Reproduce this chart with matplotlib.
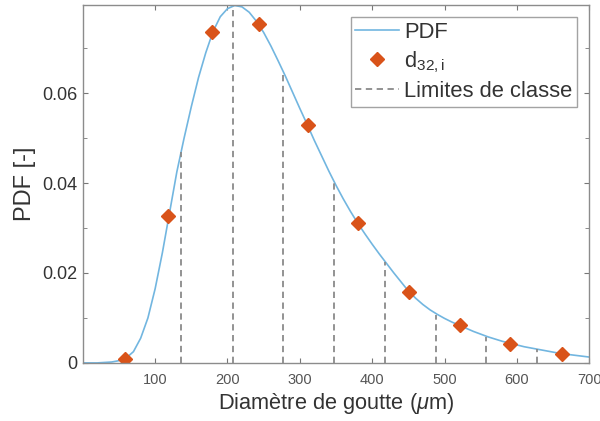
import numpy as np
import matplotlib
matplotlib.use('Agg')
import matplotlib.pyplot as plt
from matplotlib.ticker import MultipleLocator

plt.rcParams['font.family'] = ['Liberation Sans', 'DejaVu Sans']
plt.rcParams['mathtext.fontset'] = 'custom'
plt.rcParams['mathtext.rm'] = 'Liberation Sans'
plt.rcParams['mathtext.it'] = 'Liberation Sans:italic'

# PDF curve (diameter in um, pdf)
d_curve = [0, 10, 20, 30, 40, 50, 60, 70, 80, 90, 100, 110, 120, 130, 140, 150,
           160, 170, 180, 190, 200, 210, 220, 230, 240, 250, 260, 270, 280, 290,
           300, 310, 320, 330, 340, 350, 360, 370, 380, 390, 400, 410, 420, 430,
           440, 450, 460, 470, 480, 490, 500, 510, 520, 530, 540, 550, 560, 570,
           580, 590, 600, 610, 620, 630, 640, 650, 660, 670, 680, 690, 700]
pdf_curve = [0, 0, 0, 0.0001, 0.0002, 0.0005, 0.0011, 0.0025, 0.0055, 0.0100,
             0.0165, 0.0245, 0.0335, 0.0425, 0.0500, 0.0570, 0.0635, 0.0690,
             0.0737, 0.0770, 0.0788, 0.0795, 0.0792, 0.0780, 0.0760, 0.0735,
             0.0705, 0.0672, 0.0638, 0.0602, 0.0566, 0.0531, 0.0495, 0.0461,
             0.0427, 0.0395, 0.0365, 0.0337, 0.0311, 0.0287, 0.0264, 0.0242,
             0.0221, 0.0200, 0.0180, 0.0160, 0.0144, 0.0130, 0.0118, 0.0108,
             0.0099, 0.0091, 0.0084, 0.0077, 0.0070, 0.0064, 0.0058, 0.0053,
             0.0048, 0.0044, 0.0040, 0.0036, 0.0033, 0.0030, 0.0027, 0.0024,
             0.0021, 0.0019, 0.0017, 0.0015, 0.0013]

# d32 per class
d32 = [58, 118, 178, 243, 311, 380, 451, 521, 591, 662]
pdf_d32 = [0.0009, 0.0327, 0.0736, 0.0753, 0.0530, 0.0311, 0.0158, 0.0084, 0.0043, 0.0020]

# class limits and height of the dashed lines
limits = [136, 207, 277, 347, 418, 488, 558, 628]
limit_h = [0.0470, 0.0800, 0.0647, 0.0402, 0.0224, 0.0107, 0.0058, 0.0031]

fig = plt.figure(figsize=(6, 4.21), dpi=100)
ax = fig.add_axes([0.138, 0.138, 0.844, 0.850])

ax.plot(d_curve, pdf_curve, color='#72b6e0', lw=1.2, label='PDF')
ax.plot(d32, pdf_d32, 'D', color='#d95319', ms=6.8, ls='none',
        label=r'd$_{\mathregular{32,i}}$')
for i, (xl, h) in enumerate(zip(limits, limit_h)):
    ax.plot([xl, xl], [0, h], ls=(0, (3.5, 2.5)), color='#8a8a8a', lw=1.3,
            label='Limites de classe' if i == 0 else None)

ax.set_xlim(0, 700)
ax.set_ylim(0, 0.0796)
ax.set_xticks([100, 200, 300, 400, 500, 600, 700])
ax.set_yticks([0, 0.02, 0.04, 0.06])
ax.set_yticklabels(['0', '0.02', '0.04', '0.06'])
ax.yaxis.set_minor_locator(MultipleLocator(0.01))
ax.tick_params(which='both', direction='in', top=True, right=True, color='#777777')
ax.tick_params(which='major', length=3.5)
ax.tick_params(which='minor', length=3)
ax.tick_params(axis='x', labelsize=10.5, labelcolor='#555555', pad=7)
ax.tick_params(axis='y', labelsize=13, labelcolor='#333333', pad=4)
for s in ax.spines.values():
    s.set_color('#8c8c8c')
    s.set_linewidth(1.0)

ax.set_xlabel(r'Diamètre de goutte ($\mu$m)', fontsize=15.7, color='#333333', labelpad=3)
ax.set_ylabel('PDF [-]', fontsize=17, color='#333333', labelpad=4)

leg = ax.legend(loc='upper right', fontsize=15.8, frameon=True, fancybox=False,
                edgecolor='#8c8c8c', handlelength=2.0, handletextpad=0.25,
                labelspacing=0.3, borderpad=0.2, borderaxespad=0.55)
leg.get_frame().set_linewidth(1.0)
for t in leg.get_texts():
    t.set_color('#333333')

fig.savefig('out.png', dpi=100)
